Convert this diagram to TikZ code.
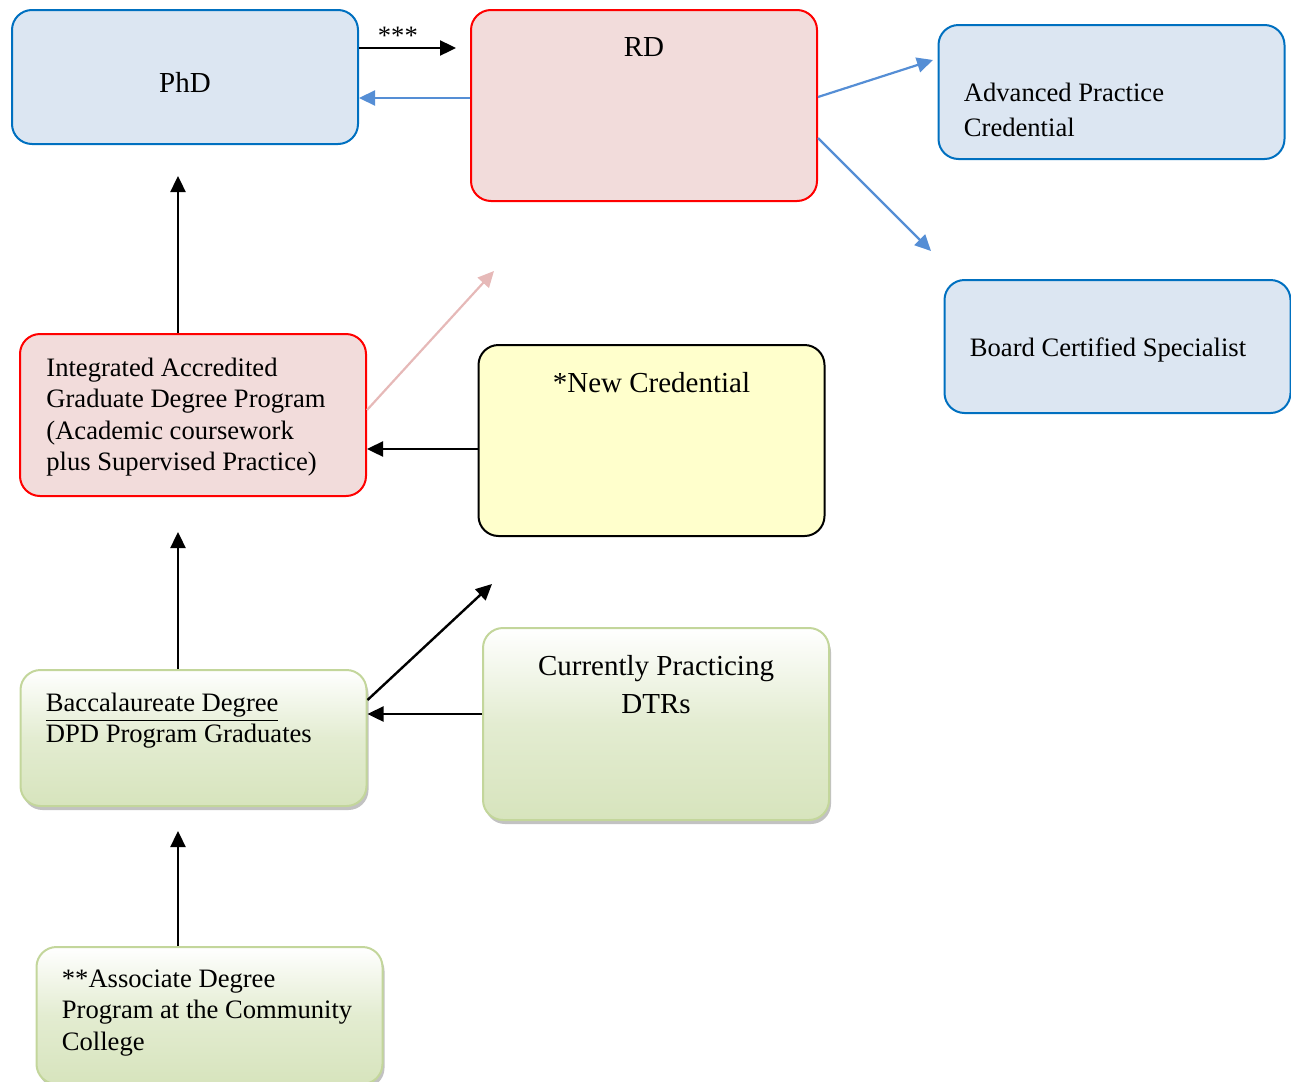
\documentclass[tikz,border=0pt]{standalone}
\usepackage{fontspec}
\setmainfont{Liberation Serif}
\usetikzlibrary{arrows.meta,shadows}
\definecolor{bluefill}{HTML}{DCE6F2}
\definecolor{blueline}{HTML}{0070C0}
\definecolor{bluearrow}{HTML}{558ED5}
\definecolor{pinkfill}{HTML}{F2DCDB}
\definecolor{pinkarrow}{HTML}{E6B9B8}
\definecolor{yellowfill}{HTML}{FFFFCC}
\definecolor{greenfill}{HTML}{D7E4BD}
\definecolor{greenline}{HTML}{C3D69B}

\begin{document}
\begin{tikzpicture}[x=0.5pt,y=-0.5pt,
  box/.style={draw, rounded corners=10pt, line width=1pt, inner sep=0pt, minimum width=173pt},
  bluebox/.style={box, draw=blueline, fill=bluefill},
  redbox/.style={box, draw=red, fill=pinkfill},
  yellowbox/.style={box, draw=black, fill=yellowfill},
  greenbox/.style={box, draw=greenline, top color=white, bottom color=greenfill, middle color=greenfill!70,
    drop shadow={shadow xshift=1pt, shadow yshift=-2pt, fill=black!40, opacity=0.6}},
  txt/.style={inner sep=0pt, font=\fontsize{13.3}{15.6}\selectfont, align=left},
  bigtxt/.style={inner sep=0pt, font=\fontsize{14.5}{19}\selectfont, align=center},
  arr/.style={-{Triangle[length=8pt,width=7.5pt]}, line width=1.2pt},
  bluearr/.style={arr, bluearrow, line width=1.1pt}]
  \path[use as bounding box, clip] (0,0) rectangle (1291,1082);

  \node[bluebox, minimum height=67pt] (phd) at (185,77) {};
  \node[redbox, minimum height=95.5pt] (rd) at (644,105.5) {};
  \node[bluebox, minimum height=67pt] (apc) at (1111.5,92) {};
  \node[bluebox, minimum height=66.5pt] (bcs) at (1117.5,346.5) {};
  \node[redbox, minimum height=81pt] (integ) at (193,415) {};
  \node[yellowbox, minimum height=95.5pt] (newc) at (651.5,440.5) {};
  \node[greenbox, minimum height=68pt] (bacc) at (193.5,738) {};
  \node[greenbox, minimum height=96pt] (curr) at (656,724) {};
  \node[greenbox, minimum height=68.5pt] (assoc) at (209.5,1015.5) {};

  \node[bigtxt] (phd-t) at ([yshift=-2.5pt]phd.center) {PhD};
  \node[bigtxt] (rd-t) at ([yshift=-19pt]rd.north) {RD};
  \node[txt, anchor=west] (apc-t) at ([xshift=13pt,yshift=-9pt]apc.west) {Advanced Practice\\[2pt]Credential};
  \node[txt, anchor=west] (bcs-t) at ([xshift=13pt,yshift=-1.5pt]bcs.west) {Board Certified Specialist};
  \node[txt, anchor=west] (integ-t) at ([xshift=13.5pt,yshift=-1pt]integ.west)
    {Integrated Accredited\\Graduate Degree Program\\(Academic coursework\\plus Supervised Practice)};
  \node[bigtxt] (newc-t) at ([yshift=-19.5pt]newc.north) {*New Credential};
  \node[txt, anchor=west] (bacc-t) at ([xshift=13pt,yshift=8.5pt]bacc.west)
    {\underline{Baccalaureate Degree}\\DPD Program Graduates};
  \node[bigtxt] (curr-t) at ([yshift=-29pt]curr.north) {Currently Practicing\\DTRs};
  \node[txt, anchor=west] (assoc-t) at ([xshift=13pt,yshift=1.25pt]assoc.west)
    {**Associate Degree\\Program at the Community\\College};

  \coordinate (apc-in) at (933,60);
  \coordinate (bcs-in) at (931,251);
  \coordinate (rd-in) at (494,271);
  \coordinate (newc-in) at (492,584);

  \draw[arr, shorten >=7pt] (phd.east |- 0,48) -- node[above, pos=0.35, yshift=1pt, inner sep=0pt, font=\fontsize{13.3}{15.6}\selectfont] {***} (rd.west |- 0,48);
  \draw[bluearr] (rd.west |- 0,98) -- (phd.east |- 0,98);
  \draw[bluearr] (rd.east |- 0,97) -- (apc-in);
  \draw[bluearr] (rd.east |- 0,138) -- (bcs-in);
  \draw[arr, shorten >=15.5pt] (integ.north -| 178,0) -- (phd.south -| 178,0);
  \draw[arr, pinkarrow, line width=1.1pt] (integ.east |- 0,410) -- (rd-in);
  \draw[arr] (newc.west |- 0,449) -- (integ.east |- 0,449);
  \draw[arr, shorten >=17.5pt] (bacc.north -| 178,0) -- (integ.south -| 178,0);
  \draw[arr] (bacc.east |- 0,700) -- (newc-in);
  \draw[arr] (curr.west |- 0,714) -- (bacc.east |- 0,714);
  \draw[arr, shorten >=12pt] (assoc.north -| 178,0) -- (bacc.south -| 178,0);
\end{tikzpicture}
\end{document}
